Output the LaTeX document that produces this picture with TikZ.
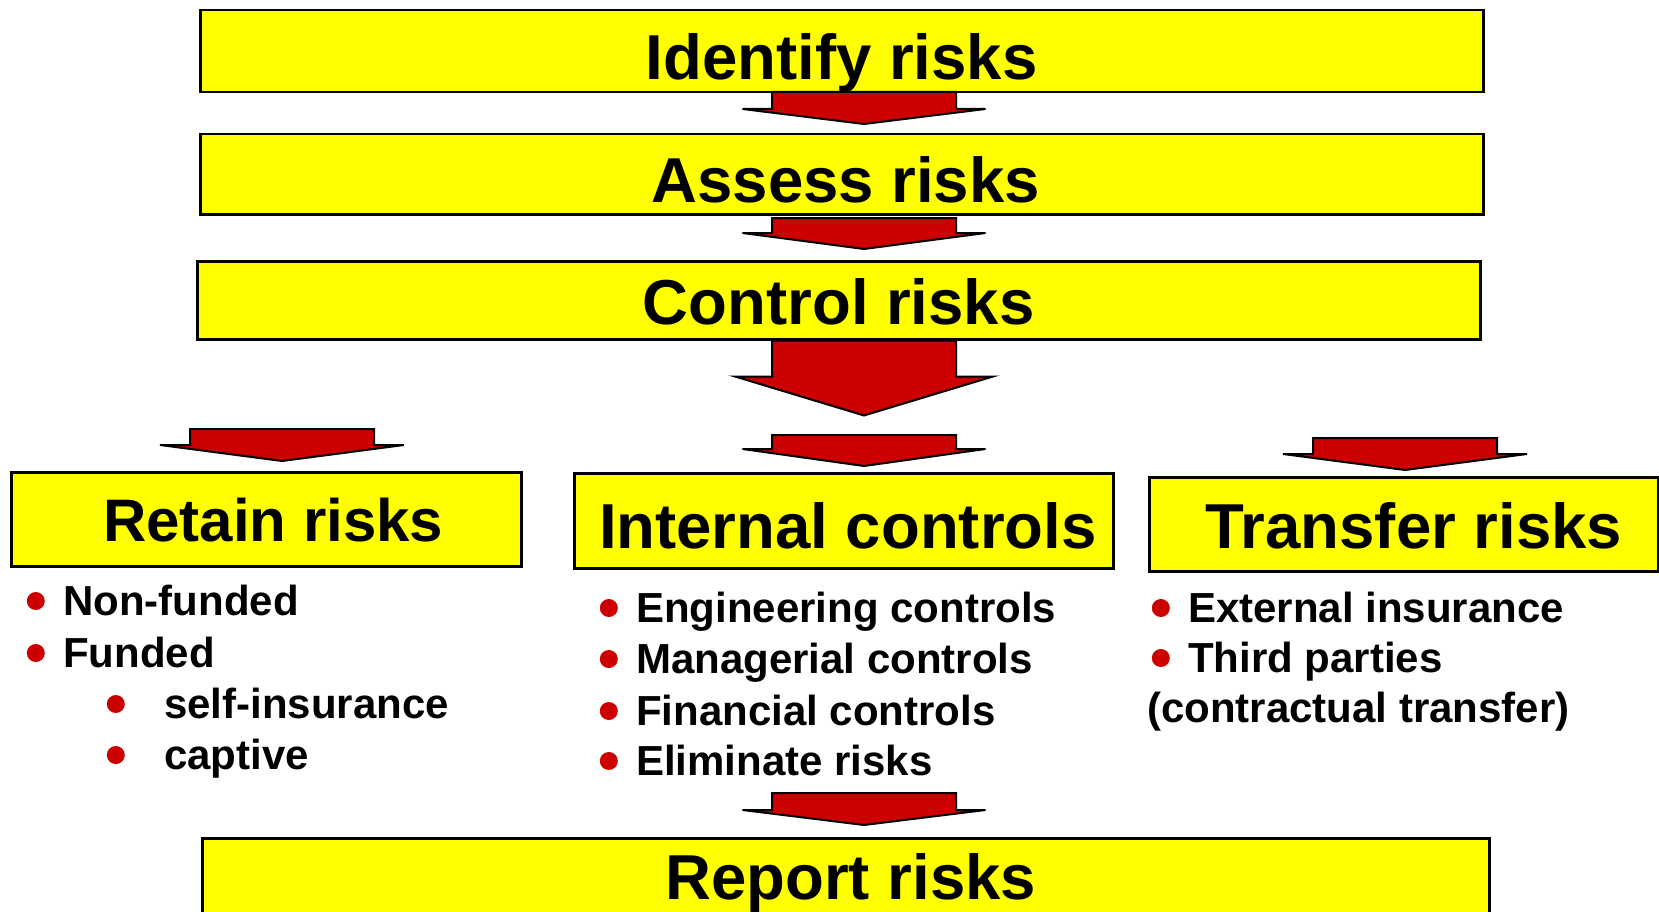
\documentclass[tikz,border=0pt]{standalone}
\usepackage{fontspec}
\setmainfont{Liberation Sans}
\usetikzlibrary{calc,positioning}

\definecolor{boxyellow}{HTML}{FFFF00}
\definecolor{arrowred}{HTML}{CC0000}

\newcommand{\titlefont}{\fontsize{63.5}{70}\selectfont\bfseries}
\newcommand{\listfont}{\fontsize{42}{50}\selectfont\bfseries}

% block arrow, drawn upwards from its tip: tip, shaft, head, half head width
\newcommand{\fatarrow}[4]{%
  \filldraw[fatarrow] (#1) -- ++(-#4,-#3) -- ++(#4-92,0) -- ++(0,-#2)
    -- ++(184,0) -- ++(0,#2) -- ++(#4-92,0) -- cycle;}

\tikzset{
  titlebox/.style={draw, fill=boxyellow, line width=2.5, anchor=north west, inner sep=0, font=\titlefont},
  fatarrow/.style={draw=black, fill=arrowred, line width=2},
  bulletdot/.style={circle, fill=arrowred, inner sep=0, minimum size=18},
  itemtext/.style={anchor=base west, inner sep=0, font=\listfont, text height=32, text depth=4},
  listitem/.style={itemtext, label={[bulletdot, label distance=18]left:{}}},
  sublistitem/.style={itemtext, label={[bulletdot, label distance=39]left:{}}},
}

\begin{document}
\begin{tikzpicture}[x=1pt, y=-1pt]
	\useasboundingbox (0,0) rectangle (1659,912);
	\clip (0,0) rectangle (1659,912);

	% arrow columns
	\coordinate (leftcol) at (282,0);
	\coordinate (midcol) at (864,0);
	\coordinate (rightcol) at (1405,0);

	% main steps
	\node[titlebox, minimum width=1283, text height=69, text depth=13] (identify) at (199,9) {Identify risks};
	\node[titlebox, minimum width=1283, text height=68, text depth=12] (assess) at (199,133) {\hspace*{8pt}Assess risks};
	\node[titlebox, minimum width=1283, text height=63, text depth=15] (control) at (196,260) {Control risks};

	% three ways
	\node[titlebox, minimum width=510, text height=69, text depth=25, font=\fontsize{60}{66}\selectfont\bfseries] (retain) at (10,471) {\hspace*{14pt}Retain risks};
	\node[titlebox, minimum width=539, text height=75, text depth=20] (internal) at (573,472) {\hspace*{8pt}Internal controls};
	\node[titlebox, minimum width=509, text height=71, text depth=23] (transfer) at (1148,476) {\hspace*{20pt}Transfer risks};

	\node[listitem] (nonfunded) at (63,615) {Non-funded};
	\node[listitem] (funded) at (63,667) {Funded};
	\node[sublistitem] (selfins) at (164,718) {self-insurance};
	\node[sublistitem] (captive) at (164,769) {captive};

	\node[listitem] (engctrl) at (636,622) {Engineering controls};
	\node[listitem] (mgrctrl) at (636,673) {Managerial controls};
	\node[listitem] (finctrl) at (636,725) {Financial controls};
	\node[listitem] (elimrisk) at (636,775) {Eliminate risks};

	\node[listitem] (extins) at (1188,622) {External insurance};
	\node[listitem] (thirdp) at (1188,672) {Third parties};
	\node[itemtext] (contract) at (1147,722) {(contractual transfer)};

	\node[titlebox, minimum width=1287, text height=61, text depth=21] (report) at (201,837) {\hspace*{10pt}Report risks};

	% arrows
	\fatarrow{$(assess.north -| midcol)+(0,-9)$}{17}{15}{121.5}
	\fatarrow{$(control.north -| midcol)+(0,-11)$}{15}{16}{121.5}
	\fatarrow{$(control.south -| midcol)+(0,75)$}{36}{39}{129}
	\fatarrow{$(retain.north -| leftcol)+(0,-10)$}{16}{16}{122}
	\fatarrow{$(internal.north -| midcol)+(0,-6)$}{14}{17}{121.5}
	\fatarrow{$(transfer.north -| rightcol)+(0,-6)$}{16}{16}{122}
	\fatarrow{$(report.north -| midcol)+(0,-12)$}{17}{15}{121.5}
\end{tikzpicture}
\end{document}
